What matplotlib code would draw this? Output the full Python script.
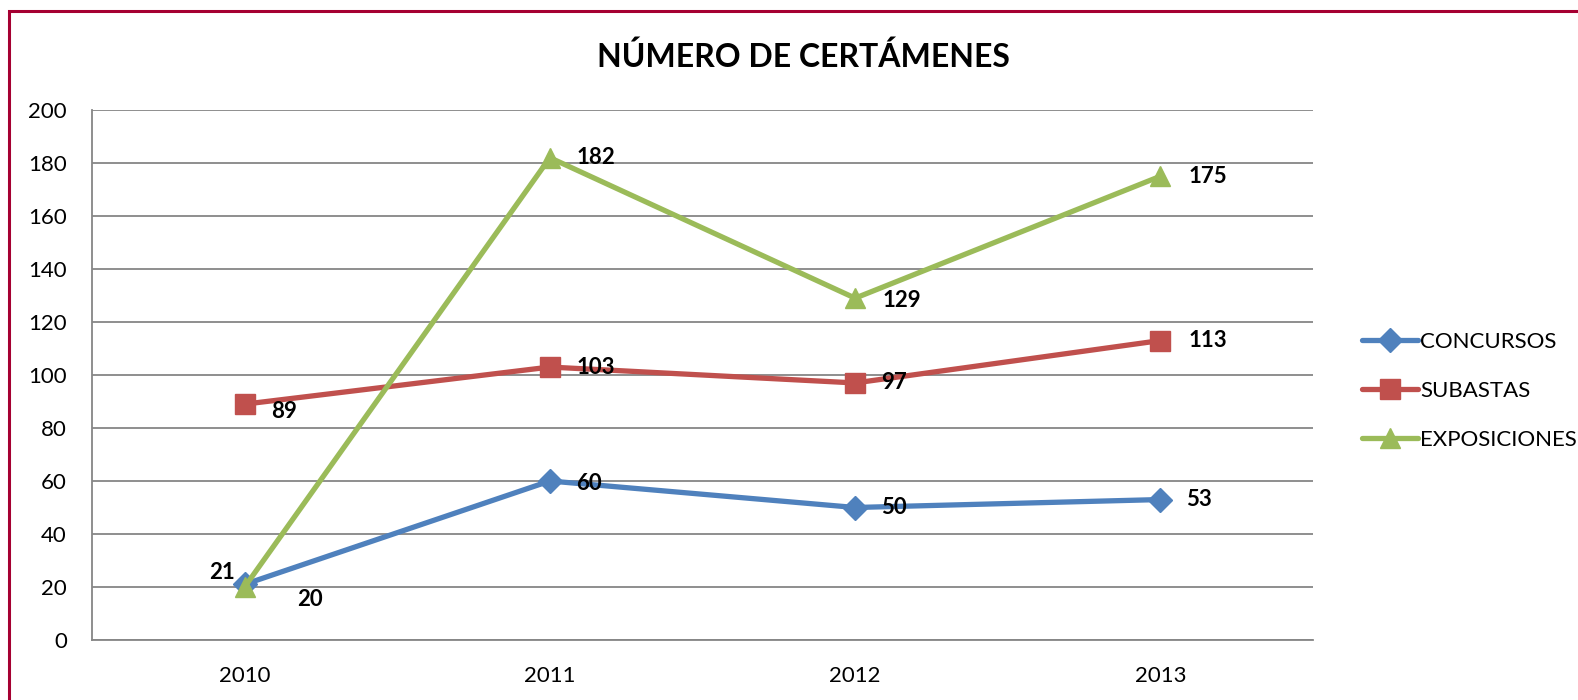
import matplotlib
matplotlib.use('Agg')
import matplotlib.pyplot as plt
from matplotlib.patches import Rectangle

plt.rcParams['font.family'] = ['Lato', 'DejaVu Sans']

years = ['2010', '2011', '2012', '2013']
concursos = [21, 60, 50, 53]
subastas = [89, 103, 97, 113]
exposiciones = [20, 182, 129, 175]

# label offsets in pixels (x right, y up)
off_conc = [(-23, 12), (39, -2), (39, 0), (39, 0)]
off_sub = [(39, -7), (46, 0), (39, 0), (47, 0)]
off_exp = [(65, -12), (46, 0), (47, -2), (47, 0)]

fig = plt.figure(figsize=(15.78, 7.0), dpi=100)
ax = fig.add_axes([92/1578, 1-640/700, (1313-92)/1578, 530/700])

x = range(len(years))
series = [
    ('CONCURSOS', concursos, '#4F81BD', 'D', 12, off_conc),
    ('SUBASTAS', subastas, '#C0504D', 's', 14, off_sub),
    ('EXPOSICIONES', exposiciones, '#9BBB59', '^', 15, off_exp),
]
for name, vals, col, mk, ms, offs in series:
    ax.plot(x, vals, color=col, lw=3.8, marker=mk, ms=ms, label=name,
            solid_capstyle='round', solid_joinstyle='round')
    for i, v in enumerate(vals):
        ax.annotate(str(v), (i, v), xytext=offs[i], textcoords='offset pixels',
                    ha='center', va='center', fontsize=16, fontweight='bold')

ax.set_xlim(-0.5, 3.5)
ax.set_ylim(0, 200)
ax.set_yticks(range(0, 201, 20))
ax.set_xticks(list(x))
ax.set_xticklabels(years)
ax.tick_params(length=0, labelsize=16)
ax.tick_params(axis='y', pad=18)
ax.tick_params(axis='x', pad=19)
ax.grid(axis='y', color='#868686', lw=1.3)
ax.set_axisbelow(True)
for s in ['top', 'right']:
    ax.spines[s].set_visible(False)
for s in ['left', 'bottom']:
    ax.spines[s].set_color('#868686')
    ax.spines[s].set_linewidth(1.3)

fig.text(803/1578, 1-57/700, 'NÚMERO DE CERTÁMENES', ha='center', va='center',
         fontsize=23, fontweight='bold')

fig.legend(loc='center left', bbox_to_anchor=(1351/1578, 1-391/700), frameon=False,
           fontsize=16, handlelength=2.5, handletextpad=0.1, labelspacing=1.3,
           borderpad=0)

fig.add_artist(Rectangle((9/1578, -0.1), 1.2, 0.1 + 1 - 11/700, transform=fig.transFigure,
                         fill=False, edgecolor='#A50032', lw=2.2))

fig.savefig('out.png', dpi=100)
